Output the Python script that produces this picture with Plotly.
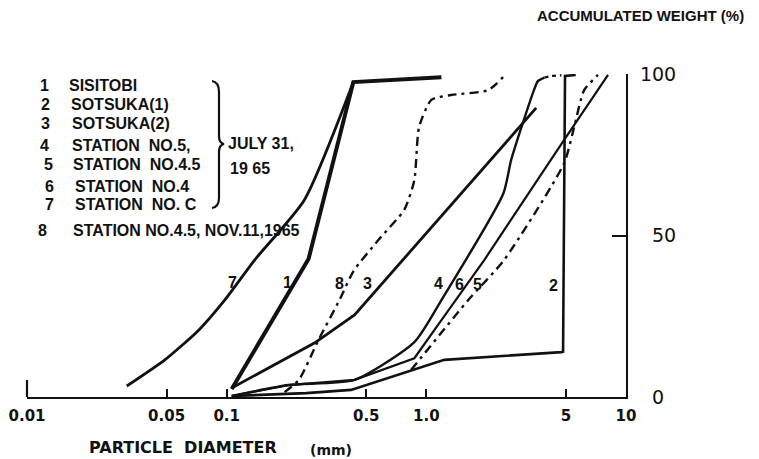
import plotly.graph_objects as go

# the page body adds an 8px margin, so the figure is sized to the remaining window
WIN_W, WIN_H = 759, 459
OFF = 8
FW, FH = WIN_W - OFF, WIN_H - OFF

# ---------------- data (particle diameter in mm, accumulated weight in %) ----------------
c1_x = [0.106, 0.257, 0.431, 1.19]
c1_y = [2.5, 42.7, 97.5, 99.0]

c2_x = [0.106, 0.25, 0.42, 0.75, 1.23, 4.75, 4.84, 4.95, 5.6]
c2_y = [0.3, 1.2, 2.2, 7.2, 11.5, 13.9, 14.0, 99.4, 99.7]

c3_x = [0.106, 0.275, 0.437, 1.88, 3.55]
c3_y = [2.8, 16.7, 25.4, 70.0, 89.5]

c4_x = [0.106, 0.204, 0.437, 0.871, 1.19, 2.43, 2.66, 3.43, 3.62, 3.9]
c4_y = [0.3, 3.7, 5.3, 17.0, 30.0, 63.0, 73.4, 94.4, 97.8, 98.9]

c4_tail_x = [3.9, 4.25, 4.75]
c4_tail_y = [98.9, 99.4, 99.6]

c5_x = [0.84, 1.62, 2.45, 4.9, 5.5, 6.17, 7.24]
c5_y = [8.4, 30.0, 42.4, 72.4, 83.6, 95.0, 99.7]

c6_x = [0.106, 0.204, 0.437, 0.871, 1.19, 1.95, 4.9, 8.13]
c6_y = [0.3, 3.7, 5.3, 12.0, 23.8, 42.4, 79.6, 99.7]

c7_x = [0.0316, 0.049, 0.0724, 0.0977, 0.138, 0.245, 0.431]
c7_y = [3.4, 11.5, 20.7, 30.0, 42.4, 61.0, 97.5]

c8_x = [0.195, 0.23, 0.288, 0.367, 0.432, 0.575, 0.776, 0.87, 0.92, 1.06, 1.33, 2.04, 2.51]
c8_y = [1.5, 5.3, 17.6, 30.0, 39.0, 48.6, 58.0, 67.0, 83.6, 92.0, 93.5, 95.0, 100.0]

x_tick_vals = [0.01, 0.05, 0.1, 0.5, 1, 5, 10]
x_tick_text = ["0.01", "0.05", "0.1", "0.5", "1.0", "5", "10"]
y_tick_vals = [0, 50, 100]
y_tick_text = ["\u00a0\u00a00", "\u00a0\u00a050", "100"]

legend_nums = ["1", "2", "3", "4", "5", "6", "7", "8"]
legend_names = ["SISITOBI", "SOTSUKA(1)", "SOTSUKA(2)", "STATION  NO.5,",
                "STATION  NO.4.5", "STATION  NO.4", "STATION  NO. C",
                "STATION NO.4.5, NOV.11,1965"]

curve_labels = ["7", "1", "8", "3", "4", "6", "5", "2"]

# ---------------- layout helpers (window pixel -> paper) ----------------
def fx(p):
    return (p - OFF) / FW

def fy(p):
    return 1 - (p - OFF) / FH

BLACK = "#111111"
DASHDOT = "9px,5px,3px,5px"

fig = go.Figure()

series = [
    (c1_x, c1_y, 4.0, "solid", "linear"),
    (c2_x, c2_y, 2.6, "solid", "linear"),
    (c3_x, c3_y, 2.8, "solid", "linear"),
    (c4_x, c4_y, 2.4, "solid", "spline"),
    (c4_tail_x, c4_tail_y, 2.2, "4px,4px", "spline"),
    (c5_x, c5_y, 2.4, DASHDOT, "spline"),
    (c6_x, c6_y, 2.2, "solid", "linear"),
    (c7_x, c7_y, 2.8, "solid", "spline"),
    (c8_x, c8_y, 2.4, DASHDOT, "spline"),
]
for xs, ys, w, dash, shape in series:
    line = dict(color=BLACK, width=w, dash=dash, shape=shape)
    if shape == "spline":
        line["smoothing"] = 0.6
    fig.add_trace(go.Scatter(x=xs, y=ys, mode="lines", line=line,
                             showlegend=False, hoverinfo="skip"))

fig.update_layout(
    width=FW, height=FH,
    margin=dict(l=0, r=0, t=0, b=0, pad=0, autoexpand=False),
    paper_bgcolor="white", plot_bgcolor="white",
    showlegend=False,
    xaxis=dict(
        type="log", range=[-2, 1],
        domain=[fx(27), fx(626)],
        automargin=False,
        showgrid=False, zeroline=False,
        showline=True, linecolor=BLACK, linewidth=2.2,
        ticks="inside", ticklen=8, tickwidth=2, tickcolor=BLACK,
        tickvals=x_tick_vals, ticktext=x_tick_text,
        tickfont=dict(family="DejaVu Sans", size=15, color=BLACK, weight="bold"),
        ticklabelstandoff=4,
    ),
    yaxis=dict(
        range=[0, 100],
        domain=[fy(397), fy(74)],
        side="right", anchor="x",
        automargin=False,
        showgrid=False, zeroline=False,
        showline=True, linecolor=BLACK, linewidth=2.2,
        ticks="inside", ticklen=14, tickwidth=2, tickcolor=BLACK,
        tickvals=y_tick_vals, ticktext=y_tick_text,
        tickfont=dict(family="DejaVu Sans", size=19, color=BLACK),
        ticklabelstandoff=8,
    ),
)

# tall tick at 0.01
fig.add_shape(type="line", xref="paper", yref="paper",
              x0=fx(27), x1=fx(27), y0=fy(397), y1=fy(380),
              line=dict(color=BLACK, width=2.2))

# brace of the legend
brace = (f"M {fx(212)},{fy(81)} Q {fx(219)},{fy(82)} {fx(219)},{fy(92)} "
         f"L {fx(219)},{fy(136)} Q {fx(219)},{fy(143)} {fx(224)},{fy(144)} "
         f"Q {fx(219)},{fy(145)} {fx(219)},{fy(152)} "
         f"L {fx(219)},{fy(198)} Q {fx(219)},{fy(207)} {fx(212)},{fy(208)}")
fig.add_shape(type="path", xref="paper", yref="paper", path=brace,
              line=dict(color=BLACK, width=2.2))

LEG_FONT = dict(family="Liberation Sans", size=16, color=BLACK, weight="bold")

num_pos = [(38, 85), (39, 104), (39, 123), (38, 146), (42, 164), (43, 186), (43, 205), (36, 231)]
name_pos = [(67, 85), (69, 104), (70, 123), (70, 146), (71, 164), (73, 186), (73, 205), (71, 231)]
for t, (x, y) in zip(legend_nums, num_pos):
    fig.add_annotation(text=t, xref="paper", yref="paper", x=fx(x), y=fy(y),
                       xanchor="left", yanchor="middle", showarrow=False, font=LEG_FONT)
for t, (x, y) in zip(legend_names, name_pos):
    fig.add_annotation(text=t, xref="paper", yref="paper", x=fx(x), y=fy(y),
                       xanchor="left", yanchor="middle", showarrow=False, font=LEG_FONT)

fig.add_annotation(text="JULY 31,", xref="paper", yref="paper", x=fx(226), y=fy(144),
                   xanchor="left", yanchor="middle", showarrow=False, font=LEG_FONT)
fig.add_annotation(text="19 65", xref="paper", yref="paper", x=fx(228), y=fy(168),
                   xanchor="left", yanchor="middle", showarrow=False, font=LEG_FONT)

# curve number labels
lab_pos = [(232, 282), (287, 282), (339, 283), (367, 283), (438, 283), (459, 284), (477, 284), (553, 285)]
for t, (x, y) in zip(curve_labels, lab_pos):
    fig.add_annotation(text=t, xref="paper", yref="paper", x=fx(x), y=fy(y),
                       xanchor="center", yanchor="middle", showarrow=False,
                       font=dict(family="Liberation Sans", size=16, color=BLACK, weight="bold"))

# axis titles
fig.add_annotation(text="PARTICLE  DIAMETER", xref="paper", yref="paper", x=fx(87), y=fy(447),
                   xanchor="left", yanchor="middle", showarrow=False,
                   font=dict(family="DejaVu Sans", size=16, color=BLACK, weight="bold"))
fig.add_annotation(text="(mm)", xref="paper", yref="paper", x=fx(308), y=fy(450),
                   xanchor="left", yanchor="middle", showarrow=False,
                   font=dict(family="DejaVu Sans", size=14, color=BLACK, weight="bold"))
fig.add_annotation(text="ACCUMULATED WEIGHT (%)", xref="paper", yref="paper", x=fx(746), y=fy(16),
                   xanchor="right", yanchor="middle", showarrow=False,
                   font=dict(family="Liberation Sans", size=15, color=BLACK, weight="bold"))

fig.write_html("out.html")
